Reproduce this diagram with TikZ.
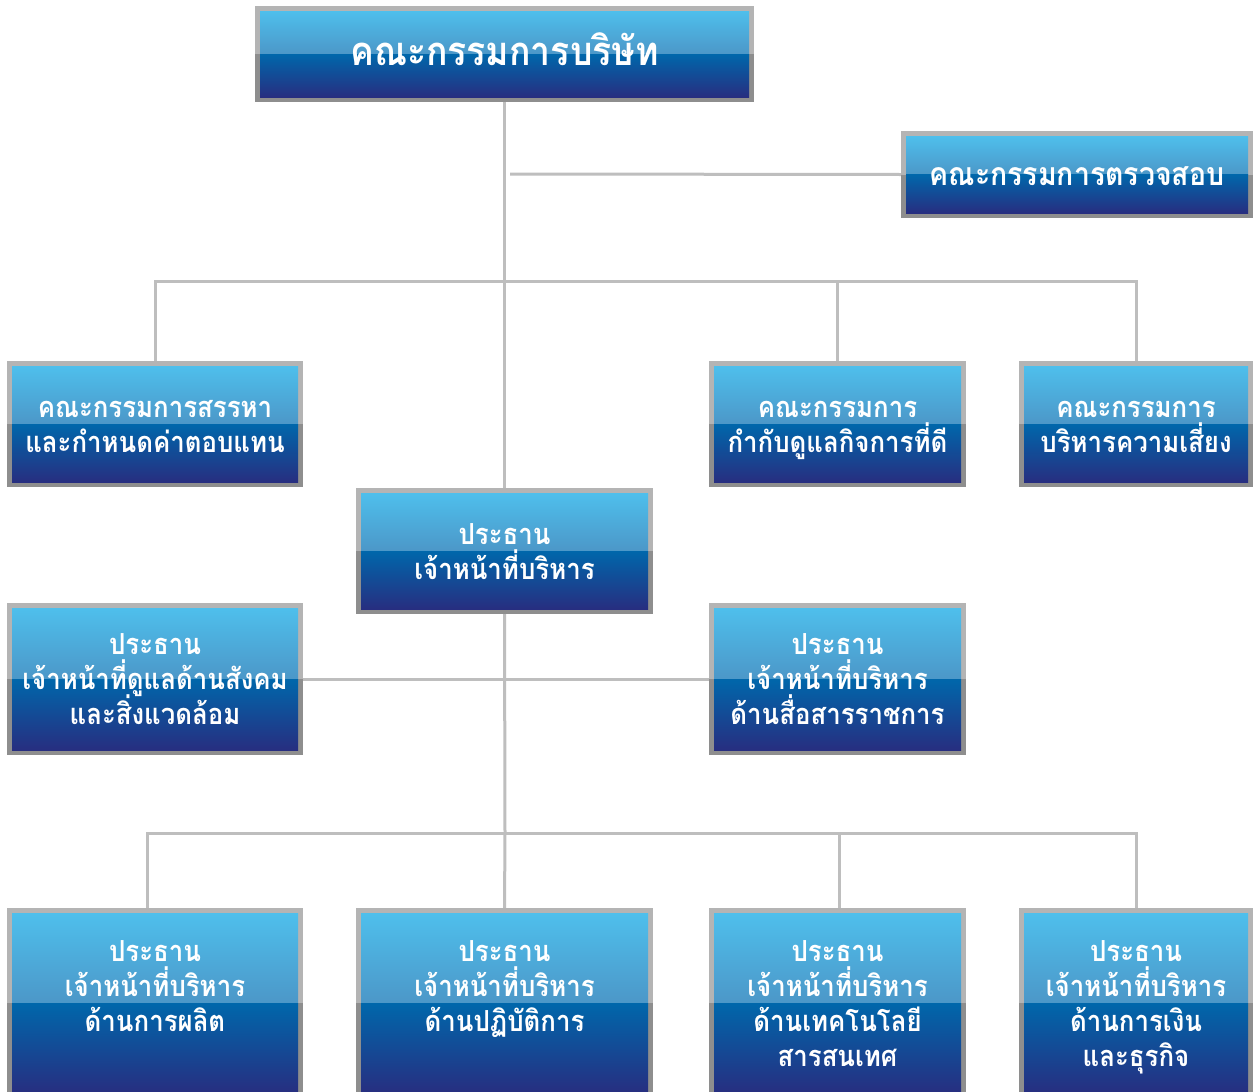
\documentclass[tikz,border=0pt]{standalone}
\usepackage{fontspec}
\newfontfamily\thaifont[Script=Thai,FakeStretch=0.89]{Loma}
\definecolor{frL}{HTML}{B4B4B4}
\definecolor{frD}{HTML}{8E8E8E}
\definecolor{bA}{HTML}{4EBFEC}
\definecolor{bB}{HTML}{4C97C8}
\definecolor{bC}{HTML}{0067AB}
\definecolor{bD}{HTML}{034B92}
\definecolor{bE}{HTML}{272E80}
\definecolor{ln}{HTML}{BEBEBE}
\newcommand\tS{\rule[-10pt]{0pt}{41pt}}
\newcommand\bxfont[1]{\thaifont\bfseries\fontsize{#1}{35}\selectfont\lineskiplimit -100pt\relax\lineskip 0pt\relax}
\tikzset{
  orgtext/.style={rectangle, inner sep=0pt, text=white, align=center},
  conn/.style={draw=ln, line width=3pt}
}
\newcommand\orgbox[7]{%
  \pgfmathsetmacro\ymid{(#3+#5)/2}%
  \pgfmathsetmacro\xmid{(#2+#4)/2}%
  \pgfmathsetmacro\bw{#4-#2}%
  \pgfmathsetmacro\bh{#5-#3}%
  \fill[frL] (#2,#3) rectangle (#4,\ymid);
  \fill[frD] (#2,\ymid) rectangle (#4,#5);
  \shade[top color=bA,bottom color=bB] (#2+5,#3+5) rectangle (#4-5,\ymid);
  \shade[top color=bC,middle color=bD,bottom color=bE] (#2+5,\ymid) rectangle (#4-5,#5-5);
  \node[orgtext, minimum width=\bw pt, minimum height=\bh pt,
        font={\bxfont{#6}}] (#1) at (\xmid,\ymid) {#7};
}
\begin{document}
\begin{tikzpicture}[x=1pt,y=-1pt]
\fill[white] (0,0) rectangle (1253,1092);
\clip (0,0) rectangle (1253,1092);
\useasboundingbox (0,0) rectangle (1253,1092);

\coordinate (audj) at (510,174);
\coordinate (b2) at (505,281);
\coordinate (b3) at (505,833);

\orgbox{board}{255}{6}{754}{102}{40}{\tS คณะกรรมการบริษัท}
\orgbox{audit}{901}{131}{1253}{218}{32}{\tS คณะกรรมการตรวจสอบ}
\orgbox{nom}{7}{361}{303}{487}{29}{\tS คณะกรรมการสรรหา\\\tS และกำหนดค่าตอบแทน}
\orgbox{gov}{709}{361}{966}{487}{29}{\tS คณะกรรมการ\\\tS กำกับดูแลกิจการที่ดี}
\orgbox{risk}{1019}{361}{1253}{487}{29}{\tS คณะกรรมการ\\\tS บริหารความเสี่ยง}
\orgbox{ceo}{356}{488}{653}{614}{29}{\tS ประธาน\\\tS เจ้าหน้าที่บริหาร}
\orgbox{soc}{7}{603}{303}{755}{29}{\tS ประธาน\\\tS เจ้าหน้าที่ดูแลด้านสังคม\\\tS และสิ่งแวดล้อม}
\orgbox{med}{709}{603}{966}{755}{29}{\tS ประธาน\\\tS เจ้าหน้าที่บริหาร\\\tS ด้านสื่อสารราชการ}
\orgbox{p1}{7}{908}{303}{1098}{29}{\tS ประธาน\\\tS เจ้าหน้าที่บริหาร\\\tS ด้านการผลิต\\\tS}
\orgbox{p2}{356}{908}{653}{1098}{29}{\tS ประธาน\\\tS เจ้าหน้าที่บริหาร\\\tS ด้านปฏิบัติการ\\\tS}
\orgbox{p3}{709}{908}{966}{1098}{29}{\tS ประธาน\\\tS เจ้าหน้าที่บริหาร\\\tS ด้านเทคโนโลยี\\\tS สารสนเทศ}
\orgbox{p4}{1019}{908}{1253}{1098}{29}{\tS ประธาน\\\tS เจ้าหน้าที่บริหาร\\\tS ด้านการเงิน\\\tS และธุรกิจ}

\draw[conn] (board.south) -- (ceo.north);
\draw[conn] (audj) -- (audit.west);
\draw[conn] (nom.north) |- (b2) -| (risk.north);
\draw[conn] (gov.north) -- (gov.north |- b2);
\draw[conn] (soc.east) -- (med.west);
\draw[conn] (ceo.south) -- (b3);
\draw[conn] ([xshift=-8pt]p1.north) |- (b3) -| (p4.north);
\draw[conn] (p2.north) -- (b3);
\draw[conn] ([xshift=2pt]p3.north) -- ([xshift=2pt]p3.north |- b3);
\end{tikzpicture}
\end{document}
